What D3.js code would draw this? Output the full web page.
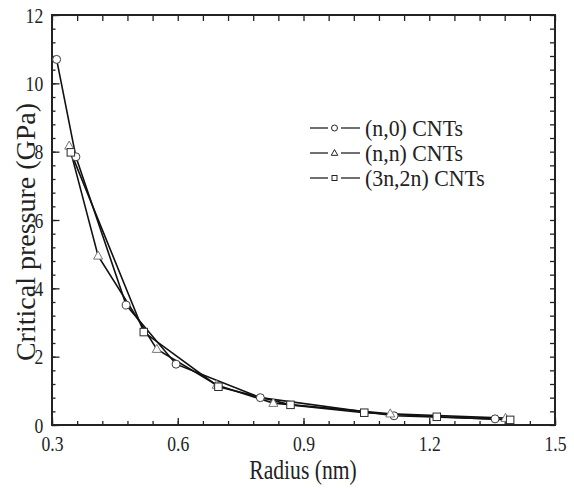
<!DOCTYPE html>
<html>
<head>
<meta charset="utf-8">
<script src="https://cdn.jsdelivr.net/npm/d3@7"></script>
<style>
  body { margin: 0; background: #fff; }
  svg { display: block; }
</style>
</head>
<body>
<svg></svg>
<script>
// values (radius in nm, pressure in GPa)
let zigzagRadius = [0.311, 0.357, 0.477, 0.596, 0.797, 1.116, 1.357]
let zigzagPressure = [10.70, 7.85, 3.51, 1.78, 0.80, 0.27, 0.18]

let armchairRadius = [0.341, 0.410, 0.550, 0.693, 0.828, 1.107, 1.382]
let armchairPressure = [8.17, 4.95, 2.22, 1.17, 0.64, 0.33, 0.20]

let chiralRadius = [0.345, 0.519, 0.697, 0.869, 1.045, 1.218, 1.393]
let chiralPressure = [7.98, 2.72, 1.12, 0.59, 0.36, 0.24, 0.15]

let seriesNames = ['(n,0) CNTs', '(n,n) CNTs', '(3n,2n) CNTs']
let seriesMarkers = ['circle', 'triangle', 'square']

let xMajorTicks = [0.3, 0.6, 0.9, 1.2, 1.5]
let yMajorTicks = [0, 2, 4, 6, 8, 10, 12]

let width = 574
let height = 489
let plotLeft = 52, plotRight = 555, plotTop = 15, plotBottom = 425
let serif = 'Liberation Serif'

let svg = d3.select('svg').attr('width', width).attr('height', height)

let xScale = d3.scaleLinear().domain([0.3, 1.5]).range([plotLeft, plotRight])
let yScale = d3.scaleLinear().domain([0, 12]).range([plotBottom, plotTop])

let xMinor = d3.range(0, 21).map(i => 0.3 + i * 0.06)
let yMinor = d3.range(0, 31).map(i => i * 0.4)

let series = [
    {name: seriesNames[0], marker: seriesMarkers[0], pts: zigzagRadius.map((r, i) => [r, zigzagPressure[i]])},
    {name: seriesNames[1], marker: seriesMarkers[1], pts: armchairRadius.map((r, i) => [r, armchairPressure[i]])},
    {name: seriesNames[2], marker: seriesMarkers[2], pts: chiralRadius.map((r, i) => [r, chiralPressure[i]])}
]

let markerStroke = {circle: '#3a3a3a', triangle: '#777', square: '#2a2a2a'}

let drawMarker = (g, type, cx, cy, s) => {
    let m
    if (type === 'circle') {
        m = g.append('circle').attr('cx', cx).attr('cy', cy).attr('r', s / 2)
    } else if (type === 'square') {
        m = g.append('rect').attr('x', cx - s / 2).attr('y', cy - s / 2).attr('width', s).attr('height', s)
    } else {
        let h = s * 0.9
        m = g.append('path').attr('d', `M${cx},${cy - h * 0.6}L${cx + s / 2},${cy + h * 0.4}L${cx - s / 2},${cy + h * 0.4}Z`)
    }
    m.attr('fill', '#fff')
        .attr('stroke', markerStroke[type])
        .attr('stroke-width', 1)
    return m
}

// axes (ticks point inward)
let makeAxis = (axis, tr) => {
    let g = svg.append('g').attr('transform', tr).call(axis)
    g.attr('font-family', serif)
    g.select('.domain').remove()
    g.selectAll('line').attr('stroke', '#222').attr('stroke-width', 1.3)
    return g
}

makeAxis(d3.axisBottom(xScale).tickValues(xMinor).tickSize(-4).tickFormat(''), `translate(0,${plotBottom})`)
let xAxisG = makeAxis(d3.axisBottom(xScale).tickValues(xMajorTicks).tickSize(-7).tickPadding(10).tickFormat(d3.format('.1f')), `translate(0,${plotBottom})`)
makeAxis(d3.axisTop(xScale).tickValues(xMinor).tickSize(-6).tickFormat(''), `translate(0,${plotTop})`)

makeAxis(d3.axisLeft(yScale).tickValues(yMinor).tickSize(-3.5).tickFormat(''), `translate(${plotLeft},0)`)
let yAxisG = makeAxis(d3.axisLeft(yScale).tickValues(yMajorTicks).tickSize(-7.5).tickPadding(11).tickFormat(d3.format('d')), `translate(${plotLeft},0)`)
makeAxis(d3.axisRight(yScale).tickValues(yMinor).tickSize(-5).tickFormat(''), `translate(${plotRight},0)`)

xAxisG.selectAll('text').attr('font-size', 22).attr('fill', '#222').attr('transform', 'scale(0.8,1)')
yAxisG.selectAll('text').attr('font-size', 22).attr('fill', '#222').attr('transform', 'scale(0.8,1)')

svg.append('rect')
    .attr('x', plotLeft).attr('y', plotTop)
    .attr('width', plotRight - plotLeft).attr('height', plotBottom - plotTop)
    .attr('fill', 'none').attr('stroke', '#222').attr('stroke-width', 2)

// lines then markers
let line = d3.line().x(d => xScale(d[0])).y(d => yScale(d[1]))

series.forEach(s => {
    svg.append('path')
        .datum(s.pts)
        .attr('d', line)
        .attr('fill', 'none')
        .attr('stroke', '#111')
        .attr('stroke-width', 1.6)
})

series.forEach(s => {
    let g = svg.append('g')
    let size = s.marker === 'circle' ? 8 : (s.marker === 'square' ? 7.5 : 9)
    s.pts.forEach(p => drawMarker(g, s.marker, xScale(p[0]), yScale(p[1]), size))
})

// legend
let legend = svg.append('g')
series.forEach((s, i) => {
    let y = 128 + i * 25
    legend.append('line').attr('x1', 310).attr('x2', 328).attr('y1', y).attr('y2', y).attr('stroke', '#222').attr('stroke-width', 1.3)
    legend.append('line').attr('x1', 341).attr('x2', 360).attr('y1', y).attr('y2', y).attr('stroke', '#222').attr('stroke-width', 1.3)
    let size = s.marker === 'circle' ? 6 : (s.marker === 'square' ? 5 : 6.5)
    drawMarker(legend, s.marker, 334.5, y, size).attr('stroke', '#222')
    legend.append('text')
        .attr('transform', `translate(365,${y + 8}) scale(0.95,1)`)
        .attr('font-family', serif)
        .attr('fill', '#222')
        .attr('font-size', 23)
        .text(s.name)
})

// axis titles
svg.append('text')
    .attr('transform', 'translate(303,479) scale(0.8,1)')
    .attr('text-anchor', 'middle')
    .attr('font-family', serif)
    .attr('fill', '#222')
    .attr('font-size', 27)
    .text('Radius (nm)')

svg.append('text')
    .attr('transform', 'translate(35,232) rotate(-90)')
    .attr('text-anchor', 'middle')
    .attr('font-family', serif)
    .attr('fill', '#222')
    .attr('font-size', 28)
    .text('Critical pressure (GPa)')
</script>
</body>
</html>
